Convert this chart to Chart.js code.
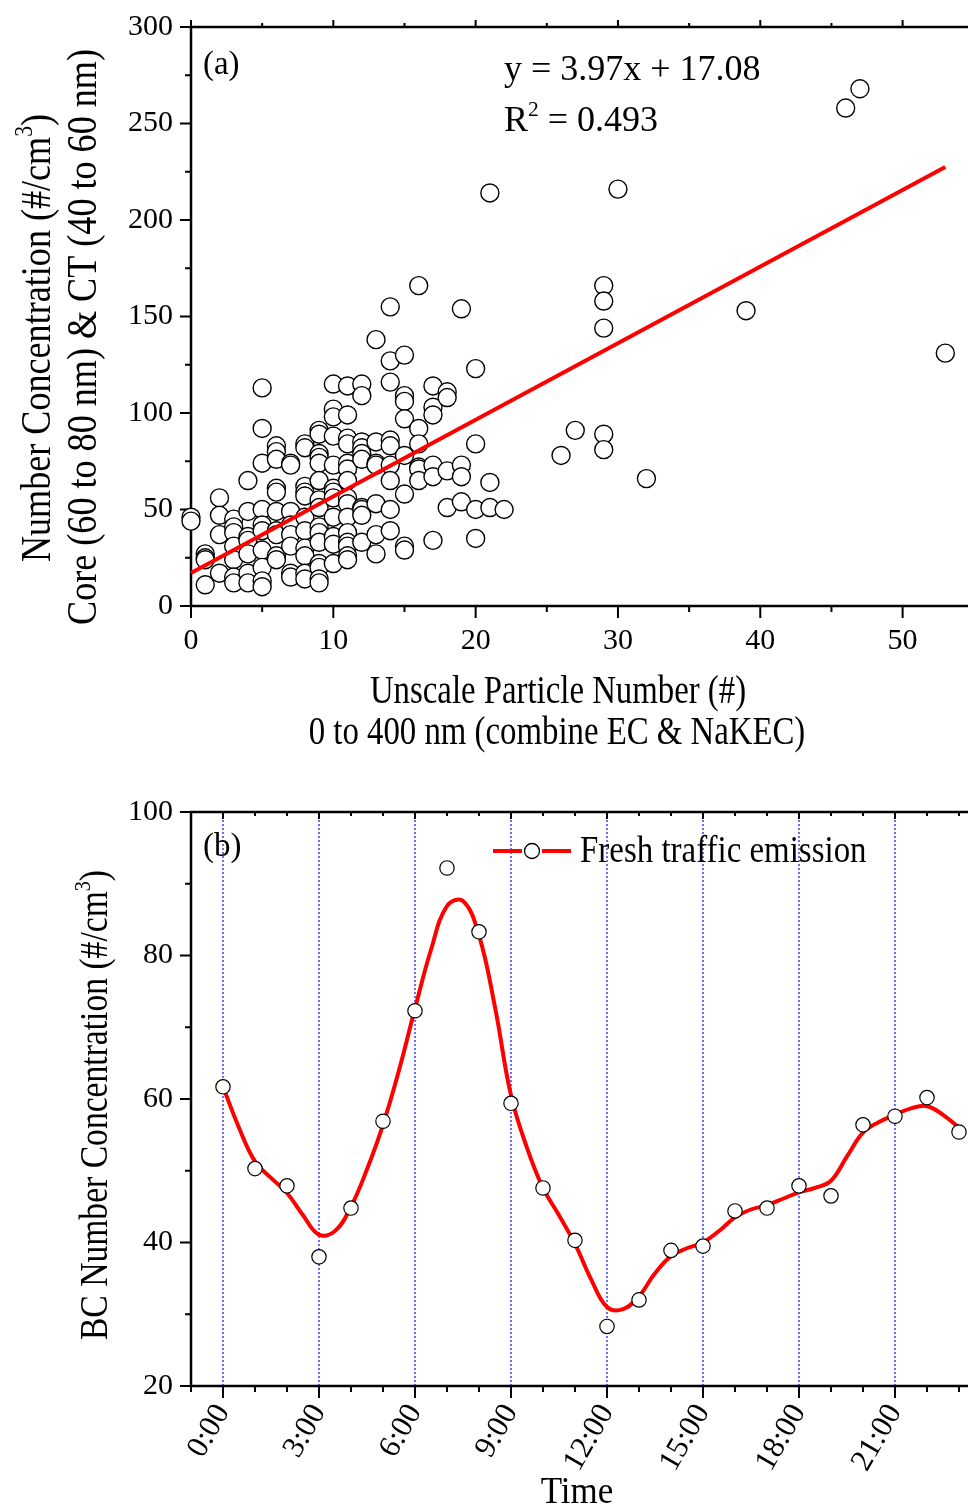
<!DOCTYPE html>
<html><head><meta charset="utf-8">
<script src="https://cdn.jsdelivr.net/npm/chart.js@4.4.0/dist/chart.umd.min.js"></script>
<style>
html,body{margin:0;padding:0;background:#fff;overflow:hidden;width:968px;height:1509px;}
canvas{position:absolute;left:0;}
#ca{top:0;} #cb{top:760px;}
</style></head><body>
<canvas id="ca" width="1000" height="760"></canvas>
<canvas id="cb" width="1000" height="749"></canvas>
<script>
const SERIF = '"Liberation Serif", "Times New Roman", serif';

// ---------- Panel (a) data ----------
const particleNumber = [
  0,0,
  1,1,1,1,
  2,2,2,2,
  3,3,3,3,3,3,3,
  4,4,4,4,4,4,4,
  5,5,5,5,5,5,5,5,5,5,
  6,6,6,6,6,6,6,6,6,6,
  7,7,7,7,7,7,7,7,
  8,8,8,8,8,8,8,8,8,8,8,
  9,9,9,9,9,9,9,9,9,9,9,9,9,9,9,
  10,10,10,10,10,10,10,10,10,10,10,10,
  11,11,11,11,11,11,11,11,11,11,11,11,11,11,11,
  12,12,12,12,12,12,12,12,12,12,
  13,13,13,13,13,13,13,
  14,14,14,14,14,14,14,14,14,
  15,15,15,15,15,15,15,15,
  16,16,16,16,16,16,
  17,17,17,17,17,17,
  18,18,18,18,
  19,19,19,19,
  20,20,20,20,
  21,21,21,
  22,26,27,
  29,29,29,29,29,
  30,32,39,46,47,53
];
const numberConc = [
  46,44,
  27,25,24,11,
  56,47,37,17,
  45,41,38,31,24,15,12,
  65,49,36,34,27,17,12,
  113,92,74,50,42,39,29,20,13,10,
  83,80,76,61,59,49,39,37,26,24,
  74,73,49,42,37,31,17,15,
  84,82,62,59,57,46,39,30,26,17,14,
  91,89,79,77,74,65,55,51,41,38,33,22,20,14,12,
  115,102,98,88,73,61,59,56,46,36,32,22,
  114,99,87,84,74,71,65,56,53,46,38,33,31,26,24,
  115,109,85,82,79,76,51,50,47,33,
  138,85,74,73,53,37,27,
  155,127,116,86,83,73,65,50,39,
  130,109,106,97,78,58,31,29,
  166,92,84,72,71,65,
  114,103,99,73,67,34,
  111,108,70,51,
  154,73,67,54,
  123,84,50,35,
  214,64,51,
  50,78,91,
  166,158,144,89,81,
  216,66,153,258,268,131
];
const fitSlope = 3.97;
const fitIntercept = 17.08;
const fitRange = [0, 53];
const xTickLabelsA = [0, 10, 20, 30, 40, 50];
const yTickLabelsA = [0, 50, 100, 150, 200, 250, 300];

// ---------- Panel (b) data ----------
const hours = [0,1,2,3,4,5,6,7,8,9,10,11,12,13,14,15,16,17,18,19,20,21,22,23];
const bcConc = [61.7,50.3,47.9,38.0,44.8,56.9,72.3,92.2,83.3,59.4,47.6,40.3,28.3,32.0,38.9,39.5,44.4,44.8,47.9,46.5,56.4,57.6,60.2,55.4];
const smoothHours = [0,0.5,1,1.5,2,2.5,3,3.5,4,4.5,5,5.5,6,6.5,7,7.5,8,8.5,9,9.5,10,10.5,11,11.5,12,12.5,13,13.5,14,14.5,15,15.5,16,16.5,17,17.5,18,18.5,19,19.5,20,20.5,21,21.5,22,22.5,23];
const smoothConc = [61.7,56.0,51.3,49.0,46.9,43.8,41.1,41.6,45.0,50.2,56.4,64.0,72.6,80.8,86.9,87.6,82.8,72.8,60.5,53.2,47.6,43.8,39.8,34.9,31.0,30.7,32.5,35.7,38.1,39.2,40.0,41.6,43.5,44.6,45.2,46.1,47.0,47.6,48.6,52.0,55.3,56.8,57.8,58.7,59.0,57.8,56.0];
const timeLabels = ['0:00','3:00','6:00','9:00','12:00','15:00','18:00','21:00'];
const yTickLabelsB = [20, 40, 60, 80, 100];

// ---------- helpers ----------
function richText(ctx, segs, x, y, size, opts) {
  const o = Object.assign({align:'center', rotate:false, hscale:1}, opts || {});
  ctx.save();
  ctx.translate(x, y);
  if (o.rotate) ctx.rotate(-Math.PI / 2);
  ctx.scale(o.hscale, 1);
  ctx.fillStyle = '#000'; ctx.textAlign = 'left'; ctx.textBaseline = 'alphabetic';
  const parts = segs.map(s => {
    const sz = s.sup ? size * 0.6 : size;
    ctx.font = sz + 'px ' + SERIF;
    return {s: s, sz: sz, w: ctx.measureText(s.t).width};
  });
  const total = parts.reduce((a, p) => a + p.w, 0);
  let cx = o.align === 'center' ? -total / 2 : (o.align === 'right' ? -total : 0);
  for (const p of parts) {
    ctx.font = p.sz + 'px ' + SERIF;
    ctx.fillText(p.s.t, cx, p.s.sup ? -size * 0.42 : 0);
    cx += p.w;
  }
  ctx.restore();
}

function drawFrame(chart, xMajor, yMajor, topInward) {
  const {ctx, chartArea: a, scales} = chart;
  ctx.save();
  ctx.strokeStyle = '#000';
  ctx.lineWidth = 2.5;
  ctx.beginPath();
  ctx.moveTo(a.left, a.top - 1.25); ctx.lineTo(a.left, a.bottom + 1.25);
  ctx.moveTo(a.left - 1.25, a.bottom); ctx.lineTo(a.right + 10, a.bottom);
  ctx.moveTo(a.left - 1.25, a.top); ctx.lineTo(a.right + 10, a.top);
  ctx.stroke();
  ctx.lineWidth = 2;
  ctx.beginPath();
  scales.y.ticks.forEach(t => {
    const py = scales.y.getPixelForValue(t.value);
    const len = yMajor(t.value) ? 11 : 6;
    ctx.moveTo(a.left - len, py); ctx.lineTo(a.left, py);
  });
  scales.x.ticks.forEach(t => {
    const px = scales.x.getPixelForValue(t.value);
    const major = xMajor(t.value);
    const len = major ? 12 : 6;
    ctx.moveTo(px, a.bottom); ctx.lineTo(px, a.bottom + len);
    const tl = major ? 7 : 4;
    ctx.moveTo(px, a.top); ctx.lineTo(px, topInward ? a.top + tl : a.top - tl);
  });
  ctx.stroke();
  ctx.restore();
}

// ---------- Panel (a) ----------
const plugA = {
  id: 'plugA',
  beforeDatasetsDraw(chart) {
    drawFrame(chart, v => v % 10 === 0, v => v % 50 === 0, false);
  },
  afterDraw(chart) {
    const ctx = chart.ctx;
    richText(ctx, [{t:'(a)'}], 203, 74, 34, {align:'left', hscale:0.97});
    richText(ctx, [{t:'y = 3.97x + 17.08'}], 504, 80, 36, {align:'left', hscale:1.0});
    richText(ctx, [{t:'R'}, {t:'2', sup:true}, {t:' = 0.493'}], 504, 131, 36, {align:'left', hscale:1.0});
    richText(ctx, [{t:'Number Concentration (#/cm'}, {t:'3', sup:true}, {t:')'}], 50, 338, 42, {rotate:true, hscale:0.86});
    richText(ctx, [{t:'Core (60 to 80 nm) & CT (40 to 60 nm)'}], 96, 337, 42, {rotate:true, hscale:0.86});
    richText(ctx, [{t:'Unscale Particle Number (#)'}], 558, 703, 40, {hscale:0.82});
    richText(ctx, [{t:'0 to 400 nm (combine EC & NaKEC)'}], 557, 744, 40, {hscale:0.82});
  }
};

new Chart(document.getElementById('ca'), {
  type: 'scatter',
  data: {
    datasets: [
      {
        type: 'line',
        data: fitRange.map(x => ({x: x, y: fitSlope * x + fitIntercept})),
        borderColor: '#ff0000', borderWidth: 4, pointRadius: 0, fill: false, clip: false
      },
      {
        type: 'scatter',
        data: particleNumber.map((x, i) => ({x: x, y: numberConc[i]})),
        pointRadius: 9, pointBackgroundColor: '#ffffff', pointBorderColor: '#000000',
        pointBorderWidth: 1.4, clip: false
      }
    ]
  },
  options: {
    responsive: false, animation: false, devicePixelRatio: 1,
    layout: {padding: {left: 0, top: 27, right: 12, bottom: 0}},
    plugins: {legend: {display: false}, tooltip: {enabled: false}},
    scales: {
      x: {
        type: 'linear', min: 0, max: 56,
        afterFit(s) { s.height = 154; s.paddingLeft = 0; s.paddingRight = 0; },
        grid: {display: false, drawTicks: false}, border: {display: false},
        ticks: {
          stepSize: 5, includeBounds: false, autoSkip: false, maxRotation: 0, minRotation: 0,
          padding: 17, color: '#000', font: {family: SERIF, size: 30},
          callback: v => xTickLabelsA.includes(v) ? String(v) : ''
        }
      },
      y: {
        min: 0, max: 300,
        afterFit(s) { s.width = 191; s.paddingTop = 0; s.paddingBottom = 0; },
        grid: {display: false, drawTicks: false}, border: {display: false},
        ticks: {
          stepSize: 25, autoSkip: false, padding: 18, color: '#000', font: {family: SERIF, size: 30},
          callback: v => yTickLabelsA.includes(v) ? String(v) : ''
        }
      }
    }
  },
  plugins: [plugA]
});

// ---------- Panel (b) ----------
const plugB = {
  id: 'plugB',
  beforeDatasetsDraw(chart) {
    const {ctx, chartArea: a, scales} = chart;
    // blue dotted vertical grid at the labelled hours
    ctx.save();
    ctx.strokeStyle = 'rgb(30,30,255)'; ctx.lineWidth = 1.3; ctx.setLineDash([2, 2]);
    ctx.beginPath();
    scales.x.ticks.forEach(t => {
      if (t.value >= 0 && t.value <= 21 && t.value % 3 === 0) {
        const px = scales.x.getPixelForValue(t.value);
        ctx.moveTo(px, a.top); ctx.lineTo(px, a.bottom);
      }
    });
    ctx.stroke();
    ctx.restore();
    drawFrame(chart, v => v % 3 === 0, v => v % 20 === 0, true);
  },
  afterDraw(chart) {
    const ctx = chart.ctx;
    richText(ctx, [{t:'(b)'}], 203, 96, 34, {align:'left', hscale:0.97});
    // legend
    ctx.save();
    ctx.strokeStyle = '#ff0000'; ctx.lineWidth = 4;
    ctx.beginPath();
    ctx.moveTo(493, 91); ctx.lineTo(522, 91);
    ctx.moveTo(542, 91); ctx.lineTo(571, 91);
    ctx.stroke();
    ctx.beginPath();
    ctx.arc(532, 91, 7.5, 0, Math.PI * 2);
    ctx.fillStyle = '#fff'; ctx.fill();
    ctx.lineWidth = 1.3; ctx.strokeStyle = '#000'; ctx.stroke();
    ctx.restore();
    richText(ctx, [{t:'Fresh traffic emission'}], 580, 102, 37, {align:'left', hscale:0.89});
    richText(ctx, [{t:'BC Number Concentration (#/cm'}, {t:'3', sup:true}, {t:')'}], 107, 345, 40, {rotate:true, hscale:0.84});
    richText(ctx, [{t:'Time'}], 577, 743, 38, {hscale:0.92});
  }
};

new Chart(document.getElementById('cb'), {
  type: 'line',
  data: {
    datasets: [
      {
        type: 'scatter',
        data: hours.map((h, i) => ({x: h, y: bcConc[i]})),
        pointRadius: 7.2, pointBackgroundColor: '#ffffff', pointBorderColor: '#000000',
        pointBorderWidth: 1.2, showLine: false, clip: false
      },
      {
        type: 'line',
        data: smoothHours.map((h, i) => ({x: h, y: smoothConc[i]})),
        borderColor: '#ff0000', borderWidth: 4, pointRadius: 0, fill: false,
        tension: 0.4, clip: false
      }
    ]
  },
  options: {
    responsive: false, animation: false, devicePixelRatio: 1,
    layout: {padding: {left: 0, top: 52, right: 9, bottom: 0}},
    plugins: {legend: {display: false}, tooltip: {enabled: false}},
    scales: {
      x: {
        type: 'linear', min: -1, max: 24,
        afterFit(s) { s.height = 123; s.paddingLeft = 0; s.paddingRight = 0; },
        grid: {display: false, drawTicks: false}, border: {display: false},
        ticks: {
          stepSize: 1, includeBounds: false, autoSkip: false, minRotation: 60, maxRotation: 60,
          padding: 12, color: '#000', font: {family: SERIF, size: 31},
          callback: v => (v >= 0 && v <= 21 && v % 3 === 0) ? timeLabels[v / 3] : ''
        }
      },
      y: {
        min: 20, max: 100,
        afterFit(s) { s.width = 191; s.paddingTop = 0; s.paddingBottom = 0; },
        grid: {display: false, drawTicks: false}, border: {display: false},
        ticks: {
          stepSize: 10, autoSkip: false, padding: 18, color: '#000', font: {family: SERIF, size: 30},
          callback: v => yTickLabelsB.includes(v) ? String(v) : ''
        }
      }
    }
  },
  plugins: [plugB]
});
</script>
</body></html>
